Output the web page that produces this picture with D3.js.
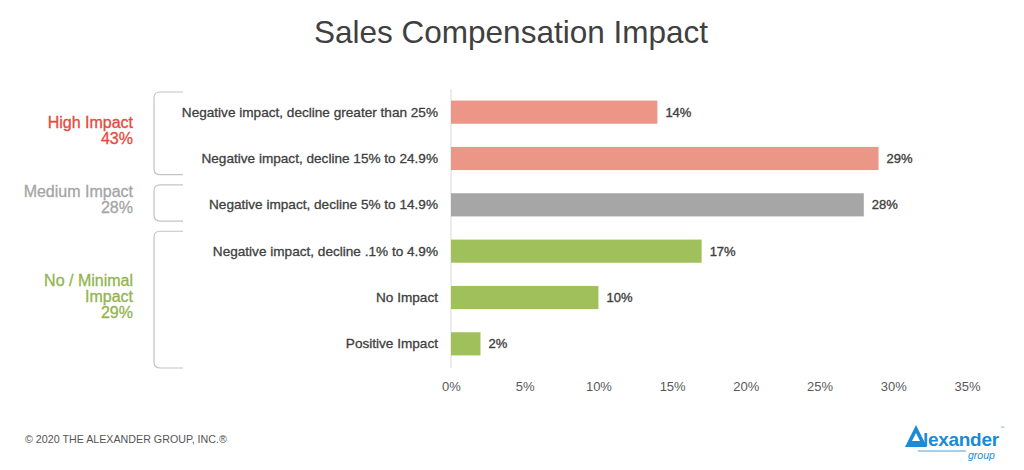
<!DOCTYPE html>
<html><head><meta charset="utf-8">
<script src="https://cdn.jsdelivr.net/npm/d3@7"></script>
<style>body{margin:0;background:#fff}svg{display:block}</style>
</head><body>
<svg id="c" width="1024" height="470"></svg>
<script>
const categories = [
  "Negative impact, decline greater than 25%",
  "Negative impact, decline 15% to 24.9%",
  "Negative impact, decline 5% to 14.9%",
  "Negative impact, decline .1% to 4.9%",
  "No Impact",
  "Positive Impact"
];
const values = [14, 29, 28, 17, 10, 2];
const barGroup = [0, 0, 1, 2, 2, 2];
const groupLines = [["High Impact", "43%"], ["Medium Impact", "28%"], ["No / Minimal", "Impact", "29%"]];
const groupFirst = [0, 2, 3];
const groupLast = [1, 2, 5];
const groupColors = ["#e8483b", "#a5a5a5", "#92b44f"];
const barColors = ["#ec9688", "#a6a6a6", "#9fc05a"];
const ticks = [0, 5, 10, 15, 20, 25, 30, 35];

const font = "'Liberation Sans', Arial, sans-serif";
const svg = d3.select("#c");

const x = d3.scaleLinear().domain([0, 35]).range([451, 967]);
const y = d3.scaleBand().domain(categories).range([89, 367]).paddingInner(0.5).paddingOuter(0.25);
const step = y.step(), bw = y.bandwidth();

// title
svg.append("text").attr("x", 511).attr("y", 43).attr("text-anchor", "middle")
  .attr("font-family", font).attr("font-size", 31.5).attr("fill", "#404040")
  .text("Sales Compensation Impact");

// vertical axis line
svg.append("line").attr("x1", x(0)).attr("x2", x(0)).attr("y1", 89).attr("y2", 368)
  .attr("stroke", "#d9d9d9").attr("stroke-width", 1);

// bars
svg.selectAll("rect.bar").data(categories).join("rect").attr("class", "bar")
  .attr("x", x(0)).attr("y", d => y(d))
  .attr("width", (d, i) => x(values[i]) - x(0)).attr("height", bw)
  .attr("fill", (d, i) => barColors[barGroup[i]]);

// value labels
svg.selectAll("text.val").data(categories).join("text").attr("class", "val")
  .attr("x", (d, i) => x(values[i]) + 8).attr("y", d => y(d) + bw / 2 + 4.5)
  .attr("font-family", font).attr("font-size", 13).attr("fill", "#404040")
  .attr("stroke", "#404040").attr("stroke-width", 0.35)
  .text((d, i) => values[i] + "%");

// category labels
svg.selectAll("text.cat").data(categories).join("text").attr("class", "cat")
  .attr("x", 438).attr("y", d => y(d) + bw / 2 + 4.5).attr("text-anchor", "end")
  .attr("font-family", font).attr("font-size", 13.6).attr("fill", "#404040")
  .attr("stroke", "#404040").attr("stroke-width", 0.3)
  .text(d => d);

// x axis
const xa = svg.append("g").attr("transform", "translate(0,375)")
  .call(d3.axisBottom(x).tickValues(ticks).tickSize(0).tickFormat(d => d + "%"));
xa.select(".domain").remove();
xa.selectAll("text").attr("font-family", font).attr("font-size", 13).attr("fill", "#595959").attr("dy", "1em");

// braces and group labels
groupLines.forEach((lines, g) => {
  const top = g === 0 ? y.range()[0] + 3 : y(categories[groupFirst[g]]) - 0.18 * step;
  const bot = g === groupLines.length - 1 ? y.range()[1] + 1 : y(categories[groupLast[g]]) + bw + 0.1 * step;
  const bx = 154, ex = 183;
  svg.append("path")
    .attr("d", `M${ex},${top} L${bx + 6},${top} Q${bx},${top} ${bx},${top + 6} L${bx},${bot - 6} Q${bx},${bot} ${bx + 6},${bot} L${ex},${bot}`)
    .attr("fill", "none").attr("stroke", "#c4c4c4").attr("stroke-width", 1.2);
  const mid = (top + bot) / 2;
  const lh = 16;
  const t = svg.append("text").attr("text-anchor", "end")
    .attr("font-family", font).attr("font-size", 16).attr("fill", groupColors[g])
    .attr("stroke", groupColors[g]).attr("stroke-width", 0.3);
  lines.forEach((l, k) => {
    t.append("tspan").attr("x", 133)
      .attr("y", mid + 2.5 + (k - (lines.length - 1) / 2) * lh).text(l);
  });
});

// footer
svg.append("text").attr("x", 25).attr("y", 443).attr("font-family", font).attr("font-size", 10.7)
  .attr("fill", "#555").text("© 2020 THE ALEXANDER GROUP, INC.®");

// logo
const logo = svg.append("g");
logo.append("path").attr("d", "M905,447 L916,425 L927,447 Z").attr("fill", "#1b8bd6");
logo.append("path").attr("d", "M912,441 L916,433 L920,441 Z").attr("fill", "#fff");
logo.append("text").attr("x", 923).attr("y", 446).attr("font-family", font).attr("font-size", 19)
  .attr("font-weight", "bold").attr("fill", "#1b8bd6").attr("letter-spacing", -0.3).text("lexander");
logo.append("text").attr("x", 1000).attr("y", 429).attr("font-family", font).attr("font-size", 4)
  .attr("fill", "#1b8bd6").text("™");
logo.append("line").attr("x1", 918).attr("x2", 966).attr("y1", 451).attr("y2", 451)
  .attr("stroke", "#1b8bd6").attr("stroke-width", 0.8);
logo.append("text").attr("x", 968).attr("y", 459).attr("font-family", font).attr("font-size", 10.5)
  .attr("font-style", "italic").attr("fill", "#1b8bd6").text("group");
</script>
</body></html>
